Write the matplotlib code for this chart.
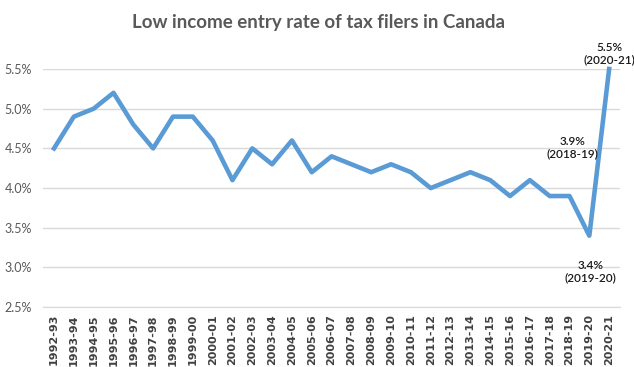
import matplotlib.pyplot as plt
from matplotlib.ticker import FuncFormatter

# data
years = ['1992-93', '1993-94', '1994-95', '1995-96', '1996-97', '1997-98', '1998-99',
         '1999-00', '2000-01', '2001-02', '2002-03', '2003-04', '2004-05', '2005-06',
         '2006-07', '2007-08', '2008-09', '2009-10', '2010-11', '2011-12', '2012-13',
         '2013-14', '2014-15', '2015-16', '2016-17', '2017-18', '2018-19', '2019-20',
         '2020-21']
rate = [4.5, 4.9, 5.0, 5.2, 4.8, 4.5, 4.9, 4.9, 4.6, 4.1, 4.5, 4.3, 4.6, 4.2, 4.4, 4.3,
        4.2, 4.3, 4.2, 4.0, 4.1, 4.2, 4.1, 3.9, 4.1, 3.9, 3.9, 3.4, 5.5]
yticks = [2.5, 3.0, 3.5, 4.0, 4.5, 5.0, 5.5]
callouts = {'2018-19': (2, 35), '2019-20': (1, -26), '2020-21': (0, 11)}

plt.rcParams['font.family'] = ['Lato', 'DejaVu Sans']

fig = plt.figure(figsize=(6.34, 3.67), dpi=100)
ax = fig.add_axes([0.068, 0.163, 0.91, 0.649])

x = list(range(len(years)))
ax.plot(x, rate, color='#5B9BD5', linewidth=3.3, solid_joinstyle='round', clip_on=False, zorder=3)

ax.set_xlim(-0.55, len(years) - 0.45)
ax.set_ylim(2.5, 5.5)
ax.set_yticks(yticks)
ax.yaxis.set_major_formatter(FuncFormatter(lambda v, p: f'{v:.1f}%'))
ax.grid(axis='y', color='#D9D9D9', linewidth=1)
ax.set_axisbelow(True)
for s in ['top', 'right', 'left']:
    ax.spines[s].set_visible(False)
ax.spines['bottom'].set_color('#D9D9D9')
ax.tick_params(axis='y', length=0, labelsize=9, labelcolor='#595959', pad=8)
ax.tick_params(axis='x', length=0, pad=5)
ax.set_xticks(x)
ax.set_xticklabels(years, rotation=90, fontsize=8, fontweight='bold', color='#404040',
                   family=['Liberation Sans Narrow', 'DejaVu Sans'])

for lab, (dx, dy) in callouts.items():
    i = years.index(lab)
    ax.annotate(f'{rate[i]:.1f}%\n({lab})', (i, rate[i]), xytext=(dx, dy),
                textcoords='offset points', ha='center', va='center', fontsize=8.5,
                fontweight='semibold', color='#1a1a1a', linespacing=1.15,
                annotation_clip=False)

fig.text(0.503, 0.94, 'Low income entry rate of tax filers in Canada', ha='center',
         va='center', fontsize=13.5, fontweight='bold', color='#595959')

fig.savefig('out.png', dpi=100)
